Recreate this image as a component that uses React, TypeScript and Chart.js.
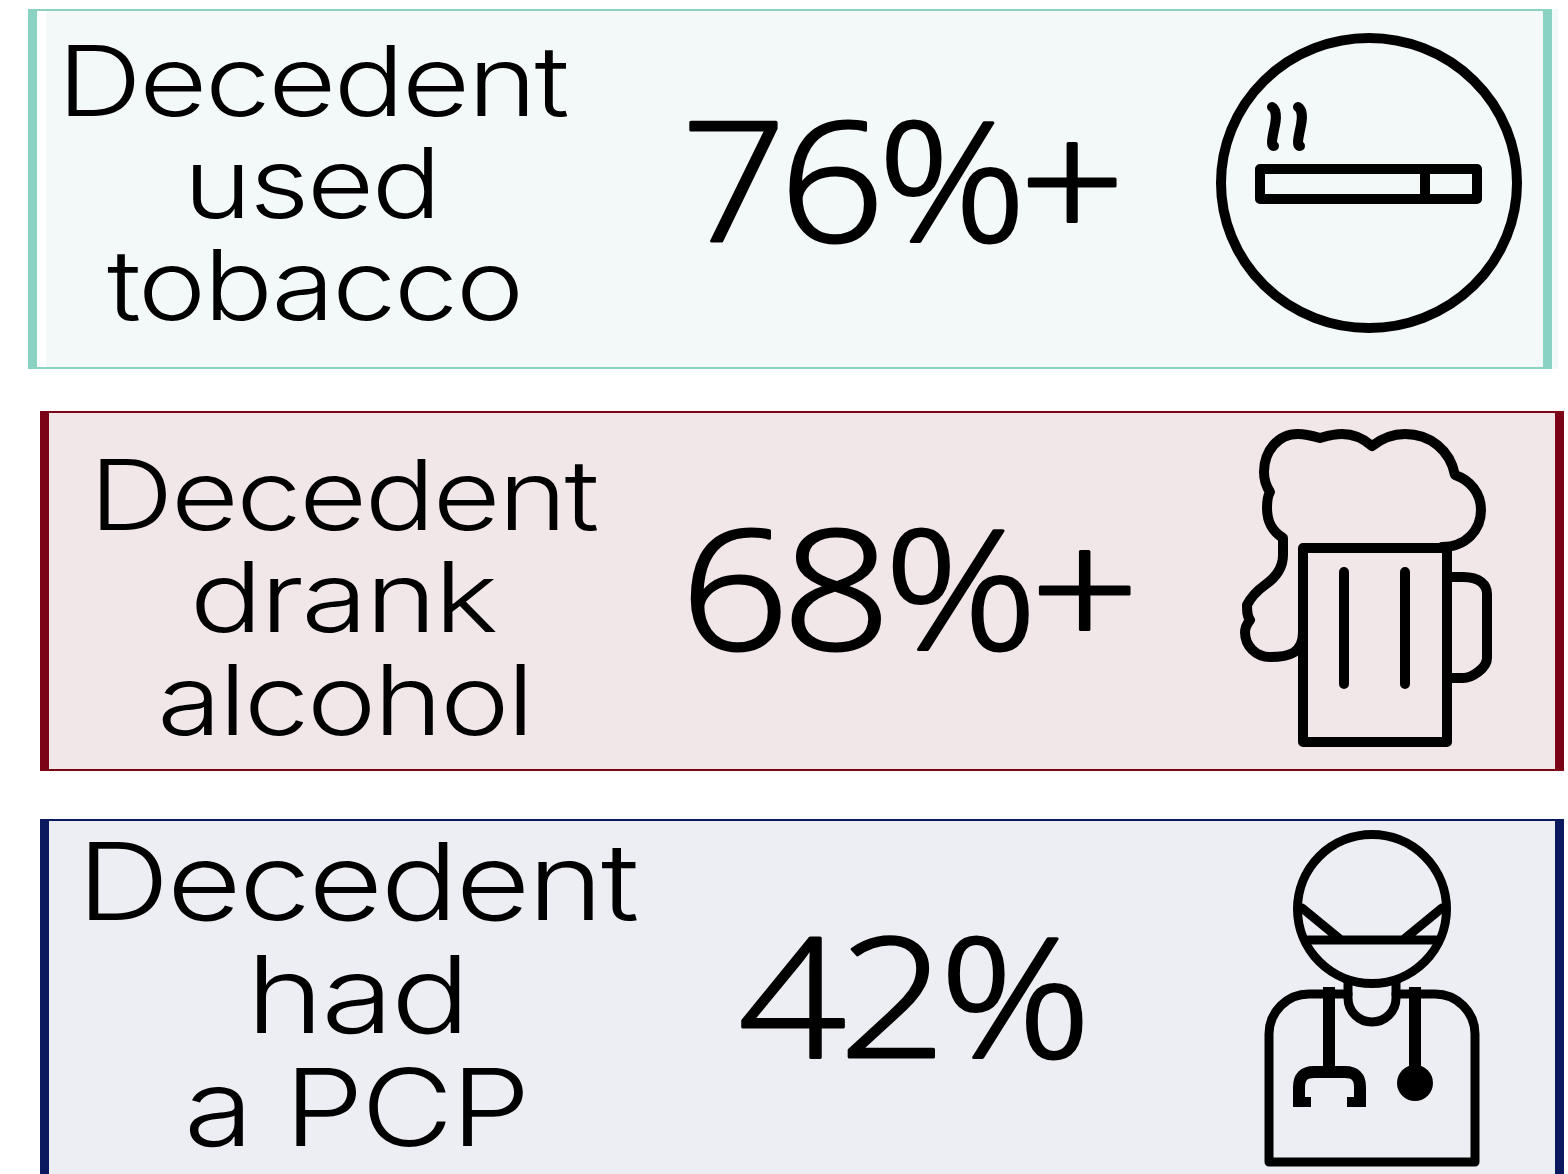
import React, { useEffect, useRef } from "react";
import { Chart, registerables } from "chart.js";

Chart.register(...registerables);

const categories = ["Decedent used tobacco", "Decedent drank alcohol", "Decedent had a PCP"];
const percentValues = [76, 68, 42];
const percentSuffixes = ["%+", "%+", "%"];
const captionLines = [
  ["Decedent", "used", "tobacco"],
  ["Decedent", "drank", "alcohol"],
  ["Decedent", "had", "a PCP"],
];

const FONT = "Inter, 'Noto Sans', sans-serif";
const PERCENT_FONT = "'Open Sans', 'Noto Sans', sans-serif";

const panelStyles = [
  { x: 28, y: 9, w: 1524, h: 360, color: "#8AD3C2", fill: "#F3F9F9", stripe: 9 },
  { x: 40, y: 411, w: 1524, h: 360, color: "#7B0316", fill: "#F1E6E8", stripe: 9 },
  { x: 40, y: 819, w: 1524, h: 380, color: "#0B1A5E", fill: "#EDEEF3", stripe: 9 },
];
// [inkLeft, inkRight, baseline] per caption line
const captionBoxes = [
  [[68, 568, 116], [193, 432, 218], [107, 518, 320]],
  [[100, 598, 530], [196, 496, 632], [162, 525, 735]],
  [[89, 637, 920], [256, 460, 1033], [190, 523, 1146]],
];
const captionSizes = [98, 98, 107];
const percentBoxes = [
  [690, 1115, 241],
  [692, 1129, 649],
  [742, 1081, 1057],
];

type Ctx = CanvasRenderingContext2D;

function fitText(
  ctx: Ctx,
  text: string,
  left: number,
  right: number,
  base: number,
  font: string,
  spacing: number,
  thicken = 0
) {
  ctx.save();
  ctx.font = font;
  (ctx as any).letterSpacing = `${spacing}px`;
  ctx.textAlign = "left";
  ctx.textBaseline = "alphabetic";
  ctx.fillStyle = "#000";
  ctx.strokeStyle = "#000";
  ctx.lineJoin = "round";
  const m = ctx.measureText(text);
  const ink = m.actualBoundingBoxRight + m.actualBoundingBoxLeft;
  const sx = (right - left) / ink;
  ctx.translate(left + m.actualBoundingBoxLeft * sx, base);
  ctx.scale(sx, 1);
  ctx.fillText(text, 0, 0);
  if (thicken > 0) {
    ctx.lineWidth = thicken;
    ctx.strokeText(text, 0, 0);
  }
  ctx.restore();
}

function stroke(ctx: Ctx, d: string, width: number) {
  ctx.lineWidth = width;
  ctx.stroke(new Path2D(d));
}

function drawCigarette(ctx: Ctx) {
  ctx.beginPath();
  ctx.ellipse(1369, 183, 148, 145, 0, 0, Math.PI * 2);
  ctx.lineWidth = 10;
  ctx.stroke();
  stroke(ctx, "M1260,169 H1477 V199 H1260 Z M1425,169 V199", 10);
  stroke(ctx, "M1272,107 C1277,110 1276,120 1275,125 C1273,135 1270,146 1274,146", 10);
  stroke(ctx, "M1298,107 C1303,110 1302,120 1301,125 C1299,135 1296,146 1300,146", 10);
}

function drawBeer(ctx: Ctx) {
  stroke(ctx, "M1303,548 H1447 V742 H1303 Z", 10);
  stroke(ctx, "M1344,572 V684 M1405,572 V684", 10);
  stroke(ctx, "M1447,577 H1463 C1480,577 1487,585 1487,594 V658 C1487,668 1472,678 1463,678 H1447", 10);
  stroke(
    ctx,
    "M1442,547 C1466,547 1481,530 1481,510 C1481,493 1470,480 1455,475 C1450,450 1430,434 1405,434 " +
      "C1392,434 1381,439 1372,446 C1363,438 1352,434 1342,434 C1333,434 1327,436 1320,438 " +
      "C1313,436 1306,434 1298,434 C1278,434 1264,451 1264,472 C1264,480 1266,486 1270,492 " +
      "C1267,497 1267,502 1267,508 C1267,522 1272,531 1283,538 L1283,555 C1283,568 1275,578 1265,585 " +
      "C1258,590 1251,597 1247,605 C1247,611 1247,616 1250,620 C1247,624 1245,628 1245,632 " +
      "C1245,646 1256,657 1270,657 C1288,657 1303,654 1303,632",
    10
  );
}

function drawDoctor(ctx: Ctx) {
  ctx.beginPath();
  ctx.arc(1372, 909, 74.5, 0, Math.PI * 2);
  ctx.lineWidth = 9;
  ctx.stroke();
  stroke(ctx, "M1308,940 H1437 M1302,908 L1341,940 M1442,908 L1403,940", 9);
  stroke(ctx, "M1348,982 V998 A24,24 0 0 0 1396,998 V982", 9);
  stroke(ctx, "M1348,994 H1309 A40,40 0 0 0 1269,1034 V1162 H1475 V1034 A40,40 0 0 0 1435,994 H1396", 9);
  ctx.lineCap = "butt";
  stroke(ctx, "M1329,987 V1072 M1415,987 V1072", 12);
  ctx.lineCap = "round";
  ctx.beginPath();
  ctx.arc(1415, 1083, 18, 0, Math.PI * 2);
  ctx.fill();
  stroke(ctx, "M1299,1100 V1087 Q1299,1072 1314,1072 H1345 Q1360,1072 1360,1087 V1100", 12);
  ctx.fillRect(1293, 1097, 18, 10);
  ctx.fillRect(1347, 1097, 19, 10);
}

const infographicPlugin = {
  id: "infographic",
  beforeDatasetsDraw(chart: Chart) {
    const ctx = chart.ctx as Ctx;
    ctx.save();
    ctx.fillStyle = "#fff";
    ctx.fillRect(0, 0, 1568, 1174);
    panelStyles.forEach((p, i) => {
      if (i === 0) {
        ctx.fillStyle = p.fill;
        ctx.fillRect(p.x + p.w, p.y, 6, p.h);
        ctx.fillStyle = p.color;
        ctx.fillRect(p.x, p.y, p.w, p.h);
        ctx.fillStyle = "#fff";
        ctx.fillRect(p.x + p.stripe, p.y + 2, 10, p.h - 4);
        ctx.fillStyle = p.fill;
        ctx.fillRect(p.x + p.stripe + 9, p.y + 2, p.w - 2 * p.stripe - 9, p.h - 4);
      } else {
        ctx.fillStyle = p.color;
        ctx.fillRect(p.x, p.y, p.w, p.h);
        ctx.fillStyle = p.fill;
        ctx.fillRect(p.x + p.stripe, p.y + 2, p.w - 2 * p.stripe, p.h - 4);
      }
    });
    captionLines.forEach((lines, i) => {
      lines.forEach((line, j) => {
        const [l, r, b] = captionBoxes[i][j];
        fitText(ctx, line, l, r, b, `300 ${captionSizes[i]}px ${FONT}`, -2);
      });
    });
    percentValues.forEach((v, i) => {
      const [l, r, b] = percentBoxes[i];
      fitText(ctx, `${v}${percentSuffixes[i]}`, l, r, b, `300 166px ${PERCENT_FONT}`, -6, 3);
    });
    ctx.strokeStyle = "#000";
    ctx.fillStyle = "#000";
    ctx.lineCap = "round";
    ctx.lineJoin = "round";
    drawCigarette(ctx);
    drawBeer(ctx);
    drawDoctor(ctx);
    ctx.restore();
  },
};

export default function App() {
  const ref = useRef<HTMLCanvasElement>(null);
  useEffect(() => {
    if (!ref.current) return;
    const chart = new Chart(ref.current, {
      type: "bar",
      data: {
        labels: categories,
        datasets: [{ label: "Percent of decedents", data: percentValues, backgroundColor: "rgba(0,0,0,0)" }],
      },
      options: {
        responsive: false,
        animation: false,
        devicePixelRatio: 1,
        layout: { padding: 0 },
        indexAxis: "y",
        scales: {
          x: { display: false, min: 0, max: 100 },
          y: { display: false },
        },
        plugins: { legend: { display: false }, title: { display: false }, tooltip: { enabled: false } },
      },
      plugins: [infographicPlugin],
    });
    return () => chart.destroy();
  }, []);
  return (
    <div style={{ position: "absolute", left: 0, top: 0, width: 1568, height: 1174, overflow: "hidden", background: "#fff" }}>
      <canvas ref={ref} width={1568} height={1174} style={{ display: "block" }} />
    </div>
  );
}
